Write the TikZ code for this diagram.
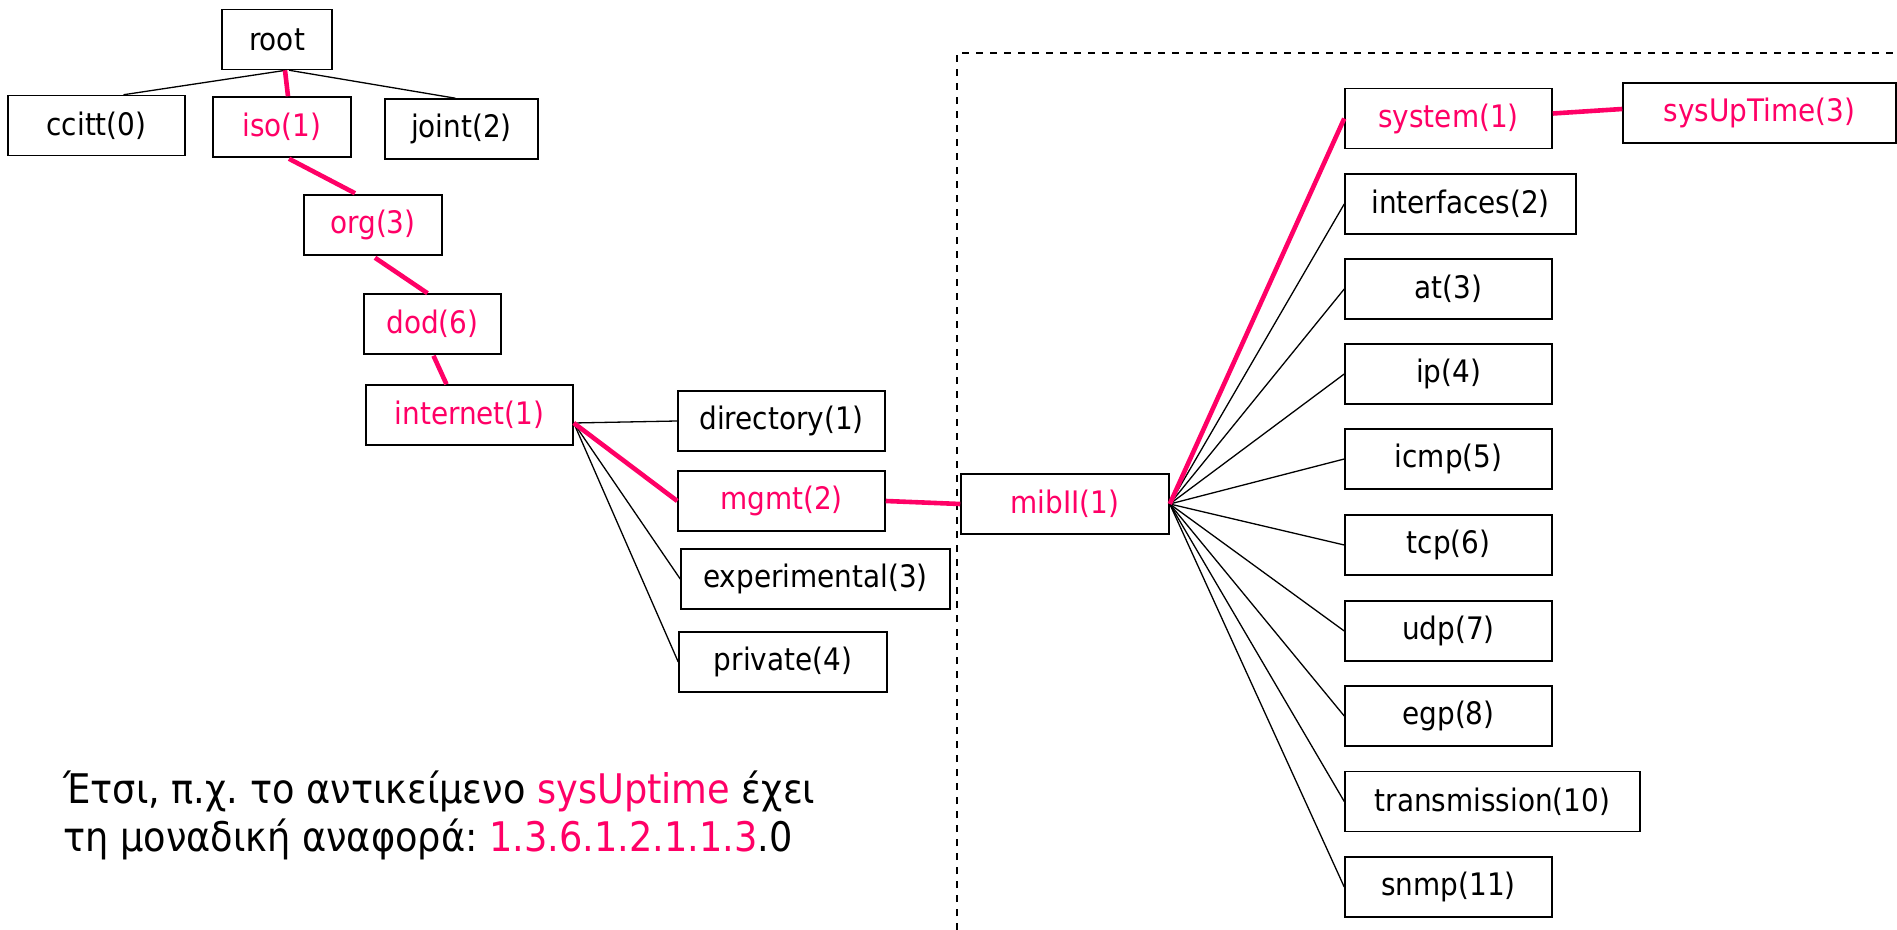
\documentclass[tikz,border=0pt]{standalone}
\usepackage{fontspec}
\setmainfont{DejaVu Sans Condensed}
\usetikzlibrary{calc}
\definecolor{hl}{RGB}{255,0,102}
\frenchspacing
\begin{document}
\begin{tikzpicture}[x=0.5pt,y=-0.5pt,
  box/.style={draw, line width=0.75pt, fill=white, minimum height=30pt, inner sep=0pt, font=\fontsize{15.5}{18}\selectfont},
  hlbox/.style={box, text=hl},
  link/.style={line width=0.65pt},
  hllink/.style={line width=2.3pt, draw=hl},
  frame/.style={line width=0.65pt, dash pattern=on 3.5pt off 3.5pt},
  caption/.style={anchor=base west, inner sep=0pt, font=\fontsize{20.4}{24}\selectfont}]
\useasboundingbox (0,0) rectangle (1897,930);
% left tree
\node[box, minimum width=55pt] (root) at (277,39.5) {root};
\node[box, minimum width=88.5pt] (ccitt) at (96.5,125.5) {ccitt(0)};
\node[hlbox, minimum width=69pt] (iso) at (282,127) {iso(1)};
\node[box, minimum width=76.5pt] (joint) at (461.5,129) {joint(2)};
\node[hlbox, minimum width=69pt] (org) at (373,225) {org(3)};
\node[hlbox, minimum width=68.5pt] (dod) at (432.5,324) {dod(6)};
\node[hlbox, minimum width=103.5pt] (internet) at (469.5,415) {internet(1)};
\node[box, minimum width=103.5pt] (directory) at (781.5,421) {directory(1)};
\node[hlbox, minimum width=103.5pt] (mgmt) at (781.5,501) {mgmt(2)};
\node[box, minimum width=134.5pt] (experimental) at (815.5,579) {experimental(3)};
\node[box, minimum width=104pt] (private) at (783,662) {private(4)};
\node[hlbox, minimum width=104pt] (mibII) at (1065,504) {mibII(1)};
% right column
\node[hlbox, minimum width=103.5pt] (system) at (1448.5,118.5) {system(1)};
\node[hlbox, minimum width=136.5pt] (sysuptime) at (1759.5,113) {sysUpTime(3)};
\node[box, minimum width=115.5pt] (interfaces) at (1460.5,204) {interfaces(2)};
\node[box, minimum width=103.5pt] (at) at (1448.5,289) {at(3)};
\node[box, minimum width=103.5pt] (ip) at (1448.5,374) {ip(4)};
\node[box, minimum width=103.5pt] (icmp) at (1448.5,459) {icmp(5)};
\node[box, minimum width=103.5pt] (tcp) at (1448.5,545) {tcp(6)};
\node[box, minimum width=103.5pt] (udp) at (1448.5,631) {udp(7)};
\node[box, minimum width=103.5pt] (egp) at (1448.5,716) {egp(8)};
\node[box, minimum width=147.5pt] (transmission) at (1492.5,801.5) {transmission(10)};
\node[box, minimum width=103.5pt] (snmp) at (1448.5,887) {snmp(11)};
% dashed frame
\draw[frame] (957,930) -- (957,53) -- (1897,53);
% connectors
\draw[link] ($(root.south)+(9,0)$) -- ($(ccitt.north)+(27,0)$);
\draw[link] ($(root.south)+(12,0)$) -- ($(joint.north)+(-6,0)$);
\draw[hllink] ($(root.south)+(8,0)$) -- ($(iso.north)+(6,0)$);
\draw[hllink] ($(iso.south)+(7,1)$) -- ($(org.north)+(-18,-1)$);
\draw[hllink] ($(org.south)+(2,2)$) -- ($(dod.north)+(-5,0)$);
\draw[hllink] ($(dod.south)+(1,1)$) -- ($(internet.north)+(-23,0)$);
\coordinate (ie) at ($(internet.east)+(0,8)$);
\draw[link] (ie) -- (directory.west);
\draw[link] (ie) -- (experimental.west);
\draw[link] (ie) -- (private.west);
\draw[hllink] (ie) -- (mgmt.west);
\draw[hllink] (mgmt.east) -- (mibII.west);
\foreach \n in {interfaces,at,ip,icmp,tcp,udp,egp,transmission,snmp}
  \draw[link] (mibII.east) -- (\n.west);
\draw[hllink] (mibII.east) -- (system.west);
\draw[hllink] ($(system.east)+(0,-5)$) -- ($(sysuptime.west)+(0,-4)$);
% caption
\node[caption] (t1) at (63,803) {Έτσι, π.χ. το αντικείμενο \textcolor{hl}{sysUptime} έχει};
\node[caption] (t2) at (63,851) {τη μοναδική αναφορά: \textcolor{hl}{1.3.6.1.2.1.1.3}.0};
\end{tikzpicture}
\end{document}
